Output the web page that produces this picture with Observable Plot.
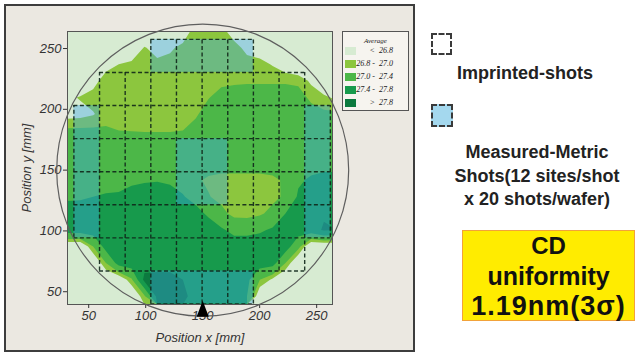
<!DOCTYPE html>
<html><head><meta charset="utf-8">
<script src="https://cdn.jsdelivr.net/npm/d3@7"></script>
<script src="https://cdn.jsdelivr.net/npm/@observablehq/plot@0.6"></script>
<style>
body{margin:0;background:#fff;width:637px;height:362px;overflow:hidden;position:relative;font-family:"Liberation Sans",Arial,sans-serif;}
#panel{position:absolute;left:4px;top:4px;width:407px;height:344px;border:2px solid #3d3d3d;background:#ebe8e1;}
#chart{position:absolute;left:0;top:0;}
#avg{position:absolute;left:342px;top:31px;width:65px;height:78px;border:1px solid #555;background:#f6f4ef;font-family:"Liberation Serif",serif;font-style:italic;color:#222;}
#avg .t{position:absolute;left:0;width:100%;top:5px;text-align:center;font-size:7px;}
#avg .sw{position:absolute;left:2px;width:11px;height:8px;}
#avg .lb{position:absolute;right:15px;font-size:8px;white-space:pre;line-height:8px;}
.box{position:absolute;box-sizing:border-box;border:2px dashed #3a3a3a;}
.txt{position:absolute;text-align:center;font-weight:bold;color:#222;font-size:18px;}
#cd{position:absolute;left:462px;top:230px;width:173px;height:91px;box-sizing:border-box;background:#ffec00;border:1.5px solid #f2a23a;text-align:center;font-weight:bold;color:#111;}
</style></head><body>
<div id="panel"></div>
<div id="chart"></div>
<div id="avg"><div class="t">Average</div></div>
<div class="box" style="left:431px;top:33px;width:21px;height:22px;background:#fff;"></div>
<div class="txt" style="left:420px;width:210px;top:62px;line-height:22px;">Imprinted-shots</div>
<div class="box" style="left:431px;top:104px;width:22px;height:23px;background:#a4d8ee;"></div>
<div class="txt" style="left:437px;width:200px;top:141px;line-height:23.5px;">Measured-Metric<br>Shots(12 sites/shot<br>x 20 shots/wafer)</div>
<div id="cd"><div style="font-size:24px;line-height:30px;">CD</div><div style="font-size:25px;line-height:30px;">uniformity</div><div style="font-size:27px;line-height:30px;letter-spacing:1px;">1.19nm(3σ)</div></div>
<script>
// ---- axes ----
const xTicks = [50, 100, 150, 200, 250];
const yTicks = [50, 100, 150, 200, 250];
// ---- legend bands ----
const cdThresholds = [26.8, 27.0, 27.4, 27.8];
const bandColors = ["#d7ebd2", "#8cc63e", "#4cb748", "#179a4c", "#0c7a3f"];
const bandLabels = ["<  26.8", "26.8 -  27.0", "27.0 -  27.4", "27.4 -  27.8", ">  27.8"];
// ---- shot layout (mm) ----
const colEdges = [37, 59.5, 82, 104.5, 127, 149.5, 172, 194.5, 217, 239.5, 262];
const rowEdges = [39.9, 67.1, 94.3, 121.5, 148.7, 175.9, 203.1, 230.3, 257.5];
const shotRowFirstCol = [3, 1, 0, 0, 0, 0, 1, 3];
const shotRowLastCol  = [6, 8, 9, 9, 9, 9, 8, 6];
const measuredShotRow = [0, 0, 0, 0, 7, 7, 7, 7, 2, 3, 4, 5, 2, 3, 4, 5, 3, 3, 4, 4];
const measuredShotCol = [3, 4, 5, 6, 3, 4, 5, 6, 0, 0, 0, 0, 9, 9, 9, 9, 4, 5, 4, 5];
// ---- CD map samples (nm) on a regular grid, rows top -> bottom ----
const gridX = [31.375, 42.625, 53.875, 65.125, 76.375, 87.625, 98.875, 110.125, 121.375, 132.625, 143.875, 155.125, 166.375, 177.625, 188.875, 200.125, 211.375, 222.625, 233.875, 245.125, 256.375, 267.625];
const gridY = [264.3, 250.7, 237.1, 223.5, 209.9, 196.3, 182.7, 169.1, 155.5, 141.9, 128.3, 114.7, 101.1, 87.5, 73.9, 60.3, 46.7];
const cdR01 = [26.5,26.5,26.5,26.5,26.5,26.5,26.5,26.55,26.6,26.6,26.95,26.95,26.9,26.65,26.55,26.5,26.5,26.5,26.5,26.5,26.5,26.5];
const cdR02 = [26.5,26.5,26.5,26.5,26.5,26.55,26.82,26.7,26.75,26.88,26.95,26.95,26.95,26.9,26.72,26.65,26.5,26.5,26.5,26.5,26.5,26.5];
const cdR03 = [26.5,26.5,26.5,26.7,26.8,26.86,26.9,26.86,26.9,26.92,26.95,26.95,26.95,26.92,26.9,26.88,26.78,26.62,26.5,26.5,26.5,26.5];
const cdR04 = [26.5,26.55,26.7,26.92,26.93,26.93,26.93,26.93,26.93,26.93,26.93,26.94,26.95,26.96,26.97,26.97,26.97,26.97,26.95,26.75,26.55,26.5];
const cdR05 = [26.75,26.82,26.9,26.93,26.93,26.93,26.93,26.93,26.93,26.93,26.95,26.99,27.08,27.12,27.13,27.13,27.13,27.13,27.1,26.95,26.85,26.75];
const cdR06 = [26.7,26.72,26.78,26.92,26.92,26.92,26.92,26.92,26.92,26.93,26.97,27.1,27.15,27.17,27.18,27.18,27.18,27.18,27.17,27.1,27.05,27.05];
const cdR07 = [27.05,27.05,27.05,27.03,27.0,26.99,26.98,26.98,26.98,27.0,27.08,27.18,27.2,27.2,27.2,27.2,27.2,27.2,27.2,27.18,27.15,27.15];
const cdR08 = [27.15,27.15,27.17,27.18,27.2,27.2,27.2,27.2,27.2,27.2,27.2,27.2,27.2,27.2,27.2,27.22,27.23,27.24,27.25,27.25,27.25,27.25];
const cdR09 = [27.25,27.25,27.26,27.28,27.3,27.31,27.32,27.32,27.3,27.25,27.18,27.15,27.15,27.15,27.15,27.15,27.18,27.25,27.27,27.28,27.3,27.3];
const cdR10 = [27.3,27.3,27.31,27.33,27.35,27.37,27.38,27.39,27.37,27.3,27.05,26.95,26.9,26.9,26.9,26.9,26.93,27.05,27.35,27.45,27.5,27.5];
const cdR11 = [27.35,27.36,27.4,27.42,27.42,27.46,27.5,27.5,27.48,27.42,27.3,27.02,26.9,26.88,26.88,26.88,26.92,27.05,27.45,27.55,27.6,27.6];
const cdR12 = [27.55,27.55,27.56,27.58,27.6,27.6,27.6,27.6,27.6,27.58,27.5,27.35,27.1,26.9,26.88,26.95,27.1,27.4,27.55,27.6,27.75,27.7];
const cdR13 = [27.6,27.6,27.6,27.6,27.62,27.62,27.62,27.62,27.62,27.62,27.6,27.55,27.45,27.3,27.3,27.35,27.45,27.55,27.6,27.62,27.85,27.8];
const cdR14 = [26.5,26.5,27.0,27.55,27.6,27.62,27.62,27.62,27.62,27.62,27.62,27.6,27.6,27.58,27.58,27.6,27.6,27.6,27.1,26.5,26.5,26.5];
const cdR15 = [26.5,26.5,26.5,27.0,27.55,27.62,27.65,27.68,27.7,27.7,27.68,27.65,27.62,27.6,27.6,27.6,27.55,27.0,26.5,26.5,26.5,26.5];
const cdR16 = [26.5,26.5,26.5,26.5,26.55,26.95,27.9,27.9,27.88,27.8,27.7,27.62,27.6,27.58,27.5,27.0,26.75,26.5,26.5,26.5,26.5,26.5];
const cdR17 = [26.5,26.5,26.5,26.5,26.5,26.5,26.95,27.9,27.9,27.85,27.72,27.62,27.6,27.55,27.4,26.55,26.5,26.5,26.5,26.5,26.5,26.5];
const cdRows = [cdR01,cdR02,cdR03,cdR04,cdR05,cdR06,cdR07,cdR08,cdR09,cdR10,cdR11,cdR12,cdR13,cdR14,cdR15,cdR16,cdR17];

const cdValues = cdRows.flat();
const gw = gridX.length, gh = gridY.length;
const dxGrid = gridX[1] - gridX[0], dyGrid = gridY[0] - gridY[1];
const gx1 = gridX[0] - dxGrid / 2, gx2 = gridX[gw - 1] + dxGrid / 2;
const gy1 = gridY[0] + dyGrid / 2, gy2 = 39.5;

const measured = measuredShotRow.map((r, i) => ({row: r, col: measuredShotCol[i]}));
const inRow = (r, c) => c >= shotRowFirstCol[r] && c <= shotRowLastCol[r];
const hLines = rowEdges.map((y, k) => {
  const rows = [k - 1, k].filter(r => r >= 0 && r < 8);
  return {y, x1: colEdges[Math.min(...rows.map(r => shotRowFirstCol[r]))], x2: colEdges[Math.max(...rows.map(r => shotRowLastCol[r])) + 1]};
});
const vLines = colEdges.map((x, j) => {
  const rows = d3.range(8).filter(r => inRow(r, j) || inRow(r, j - 1));
  return {x, y1: rowEdges[rows[0]], y2: rowEdges[rows[rows.length - 1] + 1]};
});
const notchSymbol = {draw(c, size) { const h = Math.sqrt(size); c.moveTo(0, -h * 0.55); c.lineTo(h * 0.38, h * 0.45); c.lineTo(-h * 0.38, h * 0.45); c.closePath(); }};
const dash = {stroke: "#10261a", strokeOpacity: 0.9, strokeWidth: 1.4, strokeDasharray: "4,2.5"};

const chart = Plot.plot({
  width: 420, height: 362,
  marginLeft: 67, marginRight: 88, marginTop: 31, marginBottom: 58,
  style: {background: "transparent", fontFamily: "'Liberation Sans', Arial, sans-serif", fontSize: "13px", fontStyle: "italic", color: "#333"},
  x: {domain: [31.4, 263.9]},
  y: {domain: [39.5, 264]},
  color: {type: "threshold", domain: cdThresholds, range: bandColors},
  marks: [
    Plot.frame({fill: bandColors[0]}),
    Plot.contour(cdValues, {width: gw, height: gh, x1: gx1, x2: gx2, y1: gy1, y2: gy2, fill: Plot.identity, thresholds: cdThresholds, stroke: "none", clip: true}),
    Plot.rect(measured, {x1: d => colEdges[d.col], x2: d => colEdges[d.col + 1], y1: d => rowEdges[d.row], y2: d => rowEdges[d.row + 1], fill: "#3ca8f0", fillOpacity: 0.38, clip: true}),
    Plot.ruleY(hLines, {y: "y", x1: "x1", x2: "x2", clip: true, ...dash}),
    Plot.ruleX(vLines, {x: "x", y1: "y1", y2: "y2", clip: true, ...dash}),
    Plot.frame({stroke: "#555", strokeWidth: 1}),
    Plot.axisX({ticks: xTicks, tickSize: 4, tickPadding: 2, label: "Position x [mm]", labelAnchor: "center", labelArrow: "none", labelOffset: 37}),
    Plot.axisY({ticks: yTicks, tickSize: 4, tickPadding: 2, label: "Position y [mm]", labelAnchor: "center", labelArrow: "none", labelOffset: 46}),
    Plot.dot([{x: 150, y: 150}], {x: "x", y: "y", r: 146, fill: "none", stroke: "#5e5e5e", strokeWidth: 1.2}),
    Plot.dot([{x: 150}], {x: "x", frameAnchor: "bottom", symbol: notchSymbol, r: 9, fill: "#000", dy: 5})
  ]
});
document.getElementById("chart").appendChild(chart);

const avg = document.getElementById("avg");
bandColors.forEach((c, i) => {
  const sw = document.createElement("div"); sw.className = "sw"; sw.style.top = (15 + 13 * i) + "px"; sw.style.background = c; avg.appendChild(sw);
  const lb = document.createElement("div"); lb.className = "lb"; lb.style.top = (15 + 13 * i) + "px"; lb.textContent = bandLabels[i]; avg.appendChild(lb);
});
</script>
</body></html>
